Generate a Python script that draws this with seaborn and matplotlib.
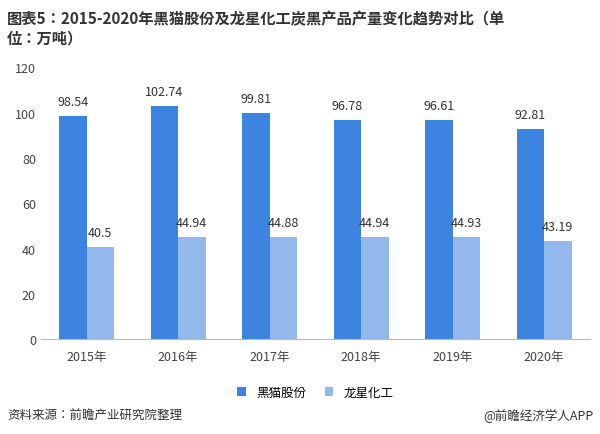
import matplotlib.pyplot as plt
import seaborn as sns
import pandas as pd

years = ["2015年", "2016年", "2017年", "2018年", "2019年", "2020年"]
heimao = [98.54, 102.74, 99.81, 96.78, 96.61, 92.81]
longxing = [40.5, 44.94, 44.88, 44.94, 44.93, 43.19]
series = ["黑猫股份", "龙星化工"]

plt.rcParams["font.family"] = "sans-serif"
plt.rcParams["font.sans-serif"] = ["Noto Sans CJK SC", "Noto Sans CJK JP",
                                   "Noto Sans CJK TC", "DejaVu Sans"]

df = pd.DataFrame({
    "year": years * 2,
    "value": heimao + longxing,
    "company": [series[0]] * 6 + [series[1]] * 6,
})

fig = plt.figure(figsize=(6, 4.35), dpi=100)
ax = fig.add_axes([0.068, 0.218, 0.915, 0.625])
sns.barplot(data=df, x="year", y="value", hue="company",
            palette=["#3d84e0", "#92b8ec"], width=0.6, gap=0.0,
            saturation=1, ax=ax)

for cont in ax.containers:
    ax.bar_label(cont, labels=[f"{v:g}" for v in cont.datavalues],
                 padding=6, fontsize=9, color="#333333")

ax.set_ylim(0, 120)
ax.set_yticks(range(0, 121, 20))
ax.set_xlabel("")
ax.set_ylabel("")
ax.tick_params(length=0, labelsize=9, colors="#444444")
for s in ["top", "right", "left"]:
    ax.spines[s].set_visible(False)
ax.spines["bottom"].set_color("#bbbbbb")
ax.tick_params(axis="x", pad=8)

ax.legend(loc="upper center", bbox_to_anchor=(0.5, -0.13), ncol=2,
          frameon=False, fontsize=9, handlelength=0.7, handleheight=0.7,
          columnspacing=1.5)

fig.text(0.012, 0.975, "图表5：2015-2020年黑猫股份及龙星化工炭黑产品产量变化趋势对比（单\n位：万吨）",
         fontsize=11, fontweight="bold", color="#333333", va="top", linespacing=1.3)
fig.text(0.012, 0.035, "资料来源：前瞻产业研究院整理", fontsize=9, color="#333333")
fig.text(0.99, 0.035, "@前瞻经济学人APP", fontsize=9, color="#333333", ha="right")

fig.savefig("out.png", dpi=100)
